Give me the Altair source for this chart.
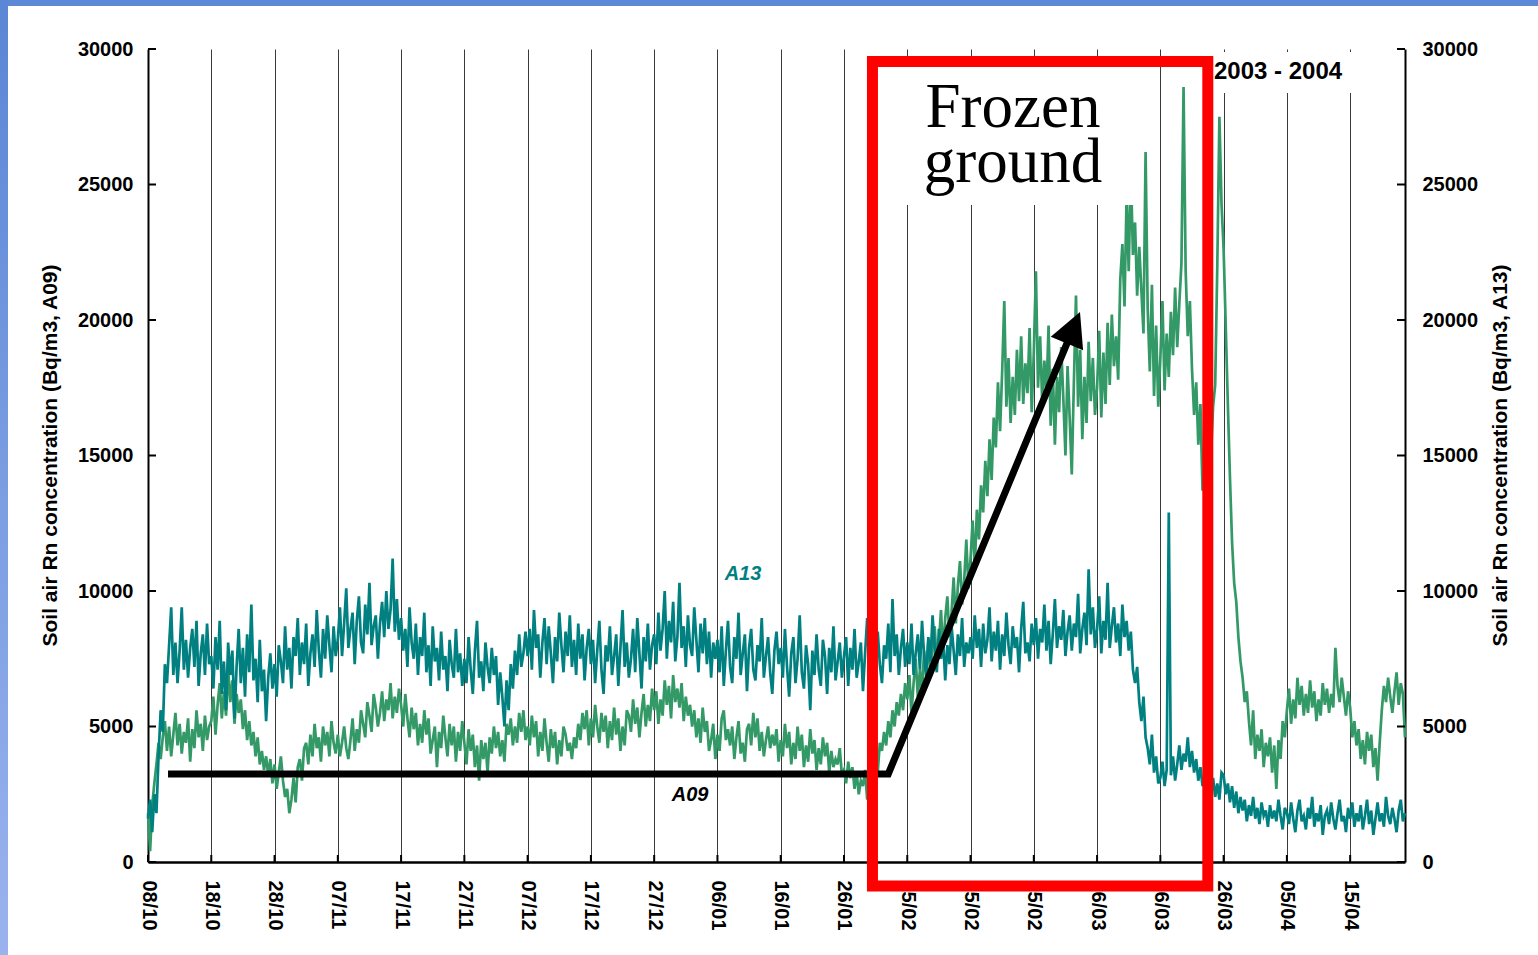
import altair as alt
import pandas as pd

# ---------------------------------------------------------------------------
# Soil-air radon at two probes, one reading every 8 hours from 08/10/2003
# ---------------------------------------------------------------------------
START = "2003-10-08 00:00"
STEP = "8h"
END = "2004-04-23 16:00"

TICK_DATES = ["2003-10-08", "2003-10-18", "2003-10-28", "2003-11-07", "2003-11-17",
              "2003-11-27", "2003-12-07", "2003-12-17", "2003-12-27", "2004-01-06",
              "2004-01-16", "2004-01-26", "2004-02-05", "2004-02-15", "2004-02-25",
              "2004-03-06", "2004-03-16", "2004-03-26", "2004-04-05", "2004-04-15"]
Y_TICKS = [0, 5000, 10000, 15000, 20000, 25000, 30000]

# A13 (Bq/m3), one block per 10-day period
A13_0810 = [1600, 2300, 1100, 2500, 1800, 3900, 5600, 4800, 7300, 6600, 8000, 9400, 6900, 8100, 6600,
            7800, 9400, 7100, 8200, 6800, 7900, 8600, 7200, 8900, 6500, 7700, 8400, 6900, 8800, 7300]
A13_1810 = [7600, 6400, 8300, 7100, 8900, 6200, 7400, 5600, 8100, 6900, 7800, 5300, 7200, 8600, 6600,
            7900, 6100, 8400, 7000, 9500, 6700, 7500, 5900, 8200, 6300, 7100, 5200, 6800, 7700, 6400]
A13_2810 = [7300, 6100, 8000, 7400, 6600, 8700, 7100, 7900, 6400, 8300, 7600, 9000, 6900, 8100, 7300,
            8800, 6500, 7700, 8400, 7200, 9300, 7800, 6800, 8600, 7500, 9100, 8000, 7000, 8700, 7600]
A13_0711 = [8200, 9400, 7600, 8800, 10100, 7900, 8600, 9200, 7300, 8900, 9800, 8100, 7700, 9500, 8400,
            10300, 8000, 8700, 9100, 7500, 8800, 9600, 8300, 10000, 8600, 9300, 11200, 8500, 9700, 8200]
A13_1711 = [9000, 7800, 8600, 7200, 9400, 8100, 7500, 8800, 6900, 8300, 7600, 9200, 7000, 8000, 6500,
            8700, 7400, 7900, 6700, 8500, 7100, 7600, 6300, 8200, 7300, 6800, 8600, 7000, 7700, 6500]
A13_2711 = [7500, 6600, 8300, 7100, 6200, 7800, 8900, 6800, 7400, 6300, 8100, 7200, 6600, 7900, 6900,
            7600, 5800, 7000, 6100, 5000, 6700, 5600, 7300, 6400, 7800, 6900, 8400, 7200, 7700, 8500]
A13_0712 = [7600, 8600, 7100, 9300, 7900, 8400, 6800, 8100, 9000, 7300, 8700, 7700, 6600, 8300, 7400,
            9200, 8000, 7000, 8500, 7600, 9100, 7200, 8200, 6900, 8800, 7500, 8400, 6700, 7900, 8600]
A13_1712 = [7300, 8200, 6600, 7800, 8900, 7100, 6200, 8000, 7400, 8700, 6900, 7600, 8400, 6500, 7900,
            9300, 7200, 8100, 6800, 7500, 8600, 7000, 9000, 7700, 6400, 8300, 7400, 8800, 7100, 8000]
A13_2712 = [8400, 7300, 9200, 7800, 8600, 10000, 7500, 8900, 8100, 9600, 7400, 8300, 10300, 7900, 8700,
            7200, 9100, 8000, 7600, 9400, 8200, 7000, 8800, 7700, 9000, 7300, 8500, 6800, 8100, 7500]
A13_0601 = [8200, 7000, 8700, 6500, 7800, 8900, 7200, 6600, 8300, 7500, 9200, 6900, 7700, 8400, 6300,
            7900, 8600, 7100, 6700, 8000, 7400, 9000, 6800, 7600, 8300, 7000, 6200, 7800, 8500, 7300]
A13_1601 = [7900, 6800, 8600, 7200, 6100, 7700, 8300, 6600, 7500, 9100, 7000, 6400, 8000, 7300, 5600,
            7800, 6900, 8400, 7100, 6500, 8200, 7600, 6200, 7900, 7000, 8700, 6700, 7400, 8100, 6800]
A13_2601 = [7600, 8300, 6500, 7900, 7100, 8600, 6800, 7400, 8100, 6300, 7700, 9000, 7200, 8200, 6900,
            7800, 8500, 7300, 6600, 8000, 7500, 8800, 7000, 9700, 7600, 8400, 6900, 7900, 8600, 7200]
A13_0502 = [8100, 7300, 8800, 6900, 7700, 8400, 7100, 8900, 7600, 6800, 8300, 7400, 9100, 7900, 7000,
            8600, 7500, 8200, 6700, 8000, 7300, 8700, 7800, 6900, 8400, 7600, 9000, 7200, 8100, 7700]
A13_1502 = [8300, 7500, 9100, 7900, 8600, 7200, 8800, 7700, 8200, 9400, 7400, 8500, 7800, 8900, 7100,
            8400, 7600, 9200, 8000, 7300, 8700, 7900, 8300, 7000, 8600, 9600, 7700, 8100, 7400, 8800]
A13_2502 = [8000, 9000, 7500, 8600, 8100, 9500, 7800, 8900, 7300, 8400, 9700, 7900, 8700, 8200, 9300,
            7600, 8500, 9100, 7800, 8800, 8300, 9900, 7700, 8600, 9200, 8000, 10800, 8400, 9400, 7900]
A13_0603 = [8600, 9800, 7700, 8900, 8200, 10300, 7900, 8700, 9400, 8100, 8800, 7600, 9500, 8300, 8900,
            7800, 8500, 7100, 6600, 7200, 5900, 5200, 6100, 4600, 4200, 3600, 4700, 3300, 3900, 2900]
A13_1603 = [3100, 3700, 2800, 3400, 12900, 3200, 3900, 3000, 3600, 4300, 3400, 4000, 3700, 4600, 3500,
            4100, 3300, 3800, 3000, 3500, 2800, 3200, 2700, 3400, 2600, 3100, 2400, 2900, 2300, 3300]
A13_2603 = [3200, 2500, 2900, 2200, 2800, 2000, 2600, 1800, 2400, 1900, 2300, 1500, 2100, 1700, 2400,
            1600, 2000, 1400, 2200, 1700, 1900, 1300, 2100, 1600, 1900, 1500, 2300, 1700, 1200, 2000]
A13_0504 = [1800, 1400, 2200, 1600, 1100, 1900, 2300, 1500, 1700, 1200, 2000, 1600, 2400, 1300, 1800,
            1500, 2100, 1000, 1700, 1900, 1400, 2200, 1600, 1200, 1800, 2300, 1500, 1700, 1100, 2000]
A13_1504 = [1600, 2200, 1300, 1800, 1500, 2100, 1200, 1700, 2300, 1400, 1900, 1000, 1600, 2200, 1500,
            1800, 1300, 2400, 1700, 1400, 2000, 1600, 1100, 1900, 2300, 1500, 1800]

# A09 (Bq/m3), one block per 10-day period
A09_0810 = [1800, 400, 2100, 2900, 3600, 4400, 3800, 4600, 5200, 4100, 5000, 3900, 4700, 5500, 4300,
            5100, 4000, 4800, 4400, 5300, 3700, 4900, 4200, 5600, 4600, 5100, 4100, 5400, 4500, 5000]
A09_1810 = [5200, 6100, 4700, 5800, 6600, 5300, 6300, 5400, 7100, 5900, 6700, 5100, 6200, 5500, 6000,
            4900, 5600, 4500, 5200, 4300, 4800, 3900, 4600, 3600, 4100, 3400, 3900, 3200, 3800, 2900]
A09_2810 = [3600, 2700, 3300, 3900, 3000, 2400, 2700, 1800, 2300, 3100, 2200, 3500, 3800, 3000, 4200,
            4400, 3600, 4700, 3900, 5100, 4200, 4600, 3700, 5000, 4300, 4800, 3900, 5200, 4400, 4000]
A09_0711 = [4700, 3900, 4400, 5000, 4200, 3800, 4500, 5300, 4100, 4900, 4400, 5600, 5100, 4600, 5900,
            5400, 4800, 6200, 5700, 5000, 5500, 6300, 5200, 6000, 5600, 6600, 5300, 6100, 5500, 6400]
A09_1711 = [5800, 5000, 6200, 5300, 4600, 5700, 4900, 5500, 4300, 5100, 4400, 5600, 4700, 5300, 4000,
            4500, 5000, 3500, 4800, 4200, 5400, 4600, 3900, 5100, 4300, 5000, 3700, 4800, 4100, 5200]
A09_2711 = [4400, 3600, 4900, 4100, 4700, 3500, 4300, 3000, 4500, 3800, 4400, 3300, 4600, 4000, 5000,
            4200, 4800, 3900, 4500, 3700, 5100, 4700, 5300, 4300, 5000, 4400, 5500, 4800, 5600, 4500]
A09_0712 = [5000, 4300, 5400, 4600, 5200, 3900, 4800, 4100, 5300, 4400, 3700, 4900, 4200, 4800, 3600,
            4500, 3900, 5000, 4700, 4100, 4400, 3800, 4600, 4200, 5100, 4500, 5500, 4900, 5600, 4300]
A09_1712 = [5300, 4600, 5800, 5000, 4400, 5500, 4800, 5400, 4200, 5200, 4500, 5700, 4700, 5300, 4100,
            5000, 4300, 5600, 5400, 4800, 6000, 5100, 5700, 4600, 5500, 6200, 5000, 5800, 5200, 6400]
A09_2712 = [5600, 6300, 5100, 6000, 5400, 6700, 5800, 6500, 5300, 6900, 5900, 6400, 5700, 6600, 5200,
            6100, 5400, 5800, 5000, 5600, 4600, 5300, 4400, 5700, 4800, 5200, 4100, 4500, 5100, 3800]
A09_0601 = [4700, 4100, 5300, 5600, 4500, 4900, 4300, 5000, 3800, 4600, 5200, 4000, 4400, 3700, 4900,
            5100, 4300, 5500, 4600, 5300, 4100, 4800, 3900, 4500, 5000, 4200, 4700, 4300, 4900, 3700]
A09_1601 = [4500, 3900, 5100, 4200, 4800, 3600, 4400, 3800, 5000, 4100, 4700, 3500, 4300, 3700, 4900,
            4000, 4500, 3400, 4200, 3600, 4600, 3900, 4400, 3300, 4100, 3500, 3800, 3600, 4200, 3200]
A09_2601 = [3400, 2900, 3700, 3100, 3500, 2700, 3300, 2500, 3000, 2800, 3400, 2300, 3200, 2700, 3600,
            3900, 3300, 4400, 4100, 4800, 4300, 5200, 4600, 5600, 5000, 5900, 5400, 6200, 5600, 6600]
A09_0502 = [6000, 6900, 5500, 6600, 7500, 6100, 7100, 6300, 7800, 7000, 8200, 6800, 7900, 8700, 7300,
            8100, 9300, 7700, 9000, 9800, 8300, 9200, 10500, 8800, 10200, 11100, 9500, 10400, 11900, 10100]
A09_1502 = [11200, 12600, 10800, 13000, 11900, 13900, 12900, 14800, 13500, 15600, 14100, 16400, 15300, 17700, 15900,
            18100, 20700, 16800, 18600, 16200, 17900, 16500, 18900, 17000, 19400, 16900, 18400, 17300, 19700, 16600]
A09_2502 = [18800, 21800, 17500, 19400, 16900, 18500, 17300, 19800, 16100, 18200, 15400, 17900, 16600, 19000, 17100,
            15000, 18300, 16400, 14300, 17700, 20900, 16800, 18900, 15600, 17900, 16200, 19200, 17000, 18600, 16500]
A09_0603 = [17500, 19600, 16400, 18800, 16900, 19900, 17600, 20200, 18300, 19400, 17800, 21500, 22800, 20500, 24600,
            21800, 25600, 22400, 23600, 20900, 22700, 21100, 19500, 26200, 20400, 18100, 21300, 17200, 19800, 16800]
A09_1603 = [18600, 20700, 17400, 19500, 17900, 20300, 18700, 21200, 19000, 20600, 22100, 28600, 21800, 19400, 20700,
            18200, 16500, 17700, 15400, 16900, 13700, 15600, 14400, 16300, 14900, 16800, 17600, 22000, 27500, 24300]
A09_2603 = [22600, 19800, 16900, 14200, 11800, 10300, 9600, 8300, 7400, 6800, 5900, 6300, 5200, 4300, 5600,
            3800, 4700, 4100, 4900, 3500, 4400, 3900, 4600, 3300, 4300, 2700, 4500, 3800, 5200, 4600]
A09_0504 = [5600, 6400, 5100, 6000, 5300, 6800, 5800, 6500, 5400, 6200, 5500, 6700, 5700, 6300, 5200,
            6000, 5400, 6600, 5800, 6400, 5500, 6200, 5700, 7900, 6500, 5900, 6800, 6100, 5400, 6300]
A09_1504 = [5700, 4600, 5200, 4300, 4900, 3800, 4500, 3600, 4800, 4100, 4700, 3500, 4200, 3000, 4400,
            5600, 6500, 5900, 6800, 6100, 5500, 6300, 7000, 5800, 6600, 6200, 4600]

a13 = (A13_0810 + A13_1810 + A13_2810 + A13_0711 + A13_1711 + A13_2711 + A13_0712 + A13_1712
       + A13_2712 + A13_0601 + A13_1601 + A13_2601 + A13_0502 + A13_1502 + A13_2502 + A13_0603
       + A13_1603 + A13_2603 + A13_0504 + A13_1504)
a09 = (A09_0810 + A09_1810 + A09_2810 + A09_0711 + A09_1711 + A09_2711 + A09_0712 + A09_1712
       + A09_2712 + A09_0601 + A09_1601 + A09_2601 + A09_0502 + A09_1502 + A09_2502 + A09_0603
       + A09_1603 + A09_2603 + A09_0504 + A09_1504)

series = pd.DataFrame({
    "t": pd.date_range(START, periods=len(a13), freq=STEP),
    "A13": a13,
    "A09": a09,
})

# Annotations (in date / concentration units)
ARROW_T = ["2003-10-11T04:00", "2004-02-02T00:00", "2004-03-01T18:45"]
ARROW_V = [3250, 3250, 19443]
ARROW_TIP_T = ["2004-03-03T07:12"]
ARROW_TIP_V = [20295]

FROZEN_BOX = {"t": ["2004-01-30T02:24"], "t2": ["2004-03-12T19:12"], "v": [29520], "v2": [24243]}
YEAR_BOX = {"t": ["2004-03-23T20:24"], "t2": ["2004-04-15T21:36"], "v": [29889], "v2": [28376]}
RED_BOX = {"t": ["2004-01-30T12:00"], "t2": ["2004-03-23T12:00"], "v": [29539], "v2": [-886]}

FROZEN_LINES = ["Frozen", "ground"]
FROZEN_T = ["2004-02-21T17:00", "2004-02-21T17:00"]
FROZEN_V = [27122, 25092]

YEAR_TEXT = ["2003 - 2004"]
YEAR_T = ["2004-04-03T14:24"]
YEAR_V = [29151]

W, H = 1257, 813
FONT = "Liberation Sans"
TEAL = "#008080"
GREEN = "#339966"


def dt(s):
    d = pd.Timestamp(s)
    return alt.DateTime(year=d.year, month=d.month, date=d.day, hours=d.hour, minutes=d.minute)


x_scale = alt.Scale(domain=[dt(START), dt(END)])
y_scale = alt.Scale(domain=[0, 30000], nice=False, zero=False)

# One shared time axis: labels, vertical grid and the base line
x_axis = alt.Axis(
    values=[dt(d) for d in TICK_DATES], format="%d/%m", title=None,
    labelAngle=90, labelAlign="left", labelBaseline="middle", labelPadding=18,
    labelFont=FONT, labelFontSize=20, labelFontWeight="bold", labelColor="black",
    labelOverlap=False, labelFlush=False, ticks=False,
    grid=True, gridColor="#3a3a3a", gridWidth=1,
    domainColor="black", domainWidth=2.5,
)


def X(field):
    return alt.X(field, type="temporal", scale=x_scale, axis=x_axis)


def Y(field, axis=None):
    return alt.Y(field, type="quantitative", scale=y_scale, axis=axis)


def y_axis(orient, title, title_x, pad):
    return alt.Axis(
        orient=orient, values=Y_TICKS, format="d", ticks=False, grid=False,
        labelFont=FONT, labelFontSize=20, labelFontWeight="bold", labelColor="black",
        labelPadding=pad, labelFlush=False, labelOverlap=False,
        domainColor="black", domainWidth=2,
        title=title, titleFont=FONT, titleFontSize=21, titleFontWeight="bold",
        titleColor="black", titleAngle=270, titleX=title_x, titleY=406,
        titleAlign="center", titleBaseline="middle",
    )


# Series
a09_line = alt.Chart(series).mark_line(color=GREEN, strokeWidth=2.7).encode(
    x=X("t"),
    y=Y("A09", y_axis("left", "Soil air Rn concentration (Bq/m3, A09)", -98, 15)),
)
a13_line = alt.Chart(series).mark_line(color=TEAL, strokeWidth=2.7).encode(
    x=X("t"),
    y=Y("A13", y_axis("right", "Soil air Rn concentration (Bq/m3, A13)", 95, 17)),
)

# White backgrounds behind the text blocks
boxes = pd.DataFrame({k: FROZEN_BOX[k] + YEAR_BOX[k] for k in ("t", "t2", "v", "v2")})
white = alt.Chart(boxes).mark_rect(color="white").encode(
    x=X("t"), x2="t2", y=Y("v"), y2="v2")

frozen = alt.Chart(pd.DataFrame({"t": FROZEN_T, "v": FROZEN_V, "s": FROZEN_LINES})).mark_text(
    font="Liberation Serif", fontSize=63, color="black", align="center", baseline="alphabetic"
).encode(x=X("t"), y=Y("v"), text="s")

year = alt.Chart(pd.DataFrame({"t": YEAR_T, "v": YEAR_V, "s": YEAR_TEXT})).mark_text(
    font=FONT, fontSize=24, fontWeight="bold", color="black", align="center", baseline="middle"
).encode(x=X("t"), y=Y("v"), text="s")

series_labels = pd.DataFrame({
    "t": ["2004-01-10T01:00", "2004-01-01T16:00"],
    "v": [10627, 2472],
    "s": ["A13", "A09"],
    "c": [TEAL, "black"],
})
labels = alt.Chart(series_labels).mark_text(
    font=FONT, fontSize=20, fontWeight="bold", fontStyle="italic", align="center", baseline="middle"
).encode(x=X("t"), y=Y("v"), text="s", color=alt.Color("c:N", scale=None))

# Arrow
arrow = alt.Chart(pd.DataFrame({"t": ARROW_T, "v": ARROW_V})).mark_line(
    color="black", strokeWidth=7, strokeCap="butt", strokeJoin="miter"
).encode(x=X("t"), y=Y("v"))
arrow_head = alt.Chart(pd.DataFrame({"t": ARROW_TIP_T, "v": ARROW_TIP_V})).mark_point(
    shape="M0,0L-1,1.95L1,1.95Z", filled=True, color="black", opacity=1,
    size=1225, angle=22.5, strokeWidth=0
).encode(x=X("t"), y=Y("v"))

# Frozen-ground period outline
red = alt.Chart(pd.DataFrame(RED_BOX)).mark_rect(
    filled=False, stroke="#ff0000", strokeWidth=11, strokeJoin="miter"
).encode(x=X("t"), x2="t2", y=Y("v"), y2="v2")

# Inward tick marks
yt = pd.DataFrame({"v": Y_TICKS})
left_ticks = alt.Chart(yt).mark_rule(color="black", strokeWidth=2).encode(
    x=alt.value(0), x2=alt.value(8), y=Y("v"))
right_ticks = alt.Chart(yt).mark_rule(color="black", strokeWidth=2).encode(
    x=alt.value(W - 8), x2=alt.value(W), y=Y("v"))
x_ticks = alt.Chart(pd.DataFrame({"t": TICK_DATES})).mark_rule(color="black", strokeWidth=2).encode(
    x=X("t"), y=alt.value(H), y2=alt.value(H - 7))

# Slide frame
one = pd.DataFrame({"k": [0]})
top_band = alt.Chart(one).mark_rect(color="#5d88d6").encode(
    x=alt.value(-148), x2=alt.value(1538 - 148), y=alt.value(-49), y2=alt.value(-43))
left_band = alt.Chart(one).mark_rect(
    color=alt.LinearGradient(
        gradient="linear", x1=0, x2=0, y1=0, y2=1,
        stops=[alt.GradientStop(offset=0, color="#5a86d5"),
               alt.GradientStop(offset=1, color="#9ab3ee")])
).encode(x=alt.value(-148), x2=alt.value(-140), y=alt.value(-49), y2=alt.value(955 - 49))

chart = alt.layer(
    a09_line, a13_line, white, frozen, year, labels, arrow, arrow_head, red,
    left_ticks, right_ticks, x_ticks, top_band, left_band,
).resolve_scale(y="independent").properties(
    width=W, height=H,
    autosize=alt.AutoSizeParams(type="none"),
    padding={"left": 148, "top": 49, "right": 133, "bottom": 93},
    background="white",
).configure_view(stroke=None)

chart.save("out.html", embed_options={"renderer": "svg", "actions": False})
